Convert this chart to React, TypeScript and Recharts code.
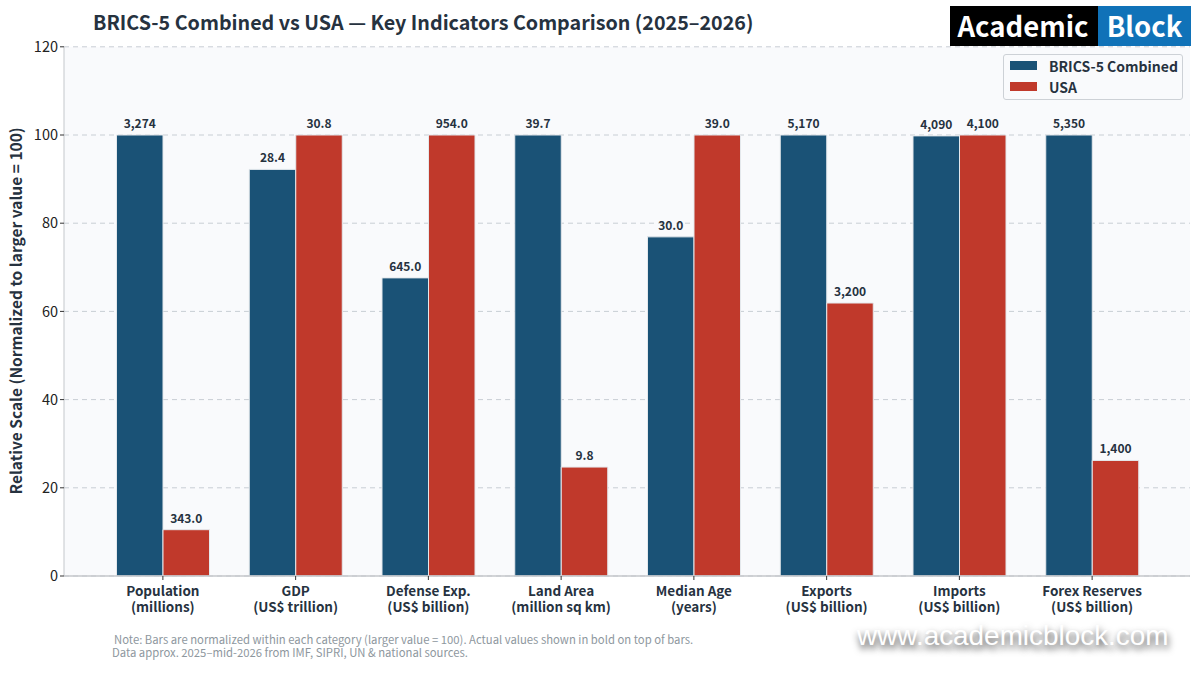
import { BarChart, Bar, XAxis, YAxis, CartesianGrid, Legend, LabelList } from 'recharts'

const FONT = '"Noto Sans CJK SC", "Noto Sans", sans-serif'
const INK = '#26323f'

const categories = ['Population', 'GDP', 'Defense Exp.', 'Land Area', 'Median Age', 'Exports', 'Imports', 'Forex Reserves']
const units = ['(millions)', '(US$ trillion)', '(US$ billion)', '(million sq km)', '(years)', '(US$ billion)', '(US$ billion)', '(US$ billion)']

// bar heights
const bricsScale = [100, 92.2, 67.6, 100, 76.9, 100, 99.8, 100]
const usaScale = [10.5, 100, 100, 24.7, 100, 61.9, 100, 26.2]

// actual values printed on top of the bars
const bricsActual = ['3,274', '28.4', '645.0', '39.7', '30.0', '5,170', '4,090', '5,350']
const usaActual = ['343.0', '30.8', '954.0', '9.8', '39.0', '3,200', '4,100', '1,400']

const yTicks = [0, 20, 40, 60, 80, 100, 120]

const chartData = categories.map((name, i) => ({
  name,
  unit: units[i],
  brics: bricsScale[i],
  usa: usaScale[i],
  bricsActual: bricsActual[i],
  usaActual: usaActual[i],
}))

// two line category label, unit goes under the name
const CategoryTick = (props: any) => {
  const { x, y, payload, index } = props
  return (
    <text x={x} y={y} textAnchor="middle" fontFamily={FONT} fontSize={13.5} fontWeight={700} fill={INK}>
      <tspan x={x} dy={14}>{payload.value}</tspan>
      <tspan x={x} dy={16}>{units[index]}</tspan>
    </text>
  )
}

const LegendBox = (props: any) => (
  <div style={{ boxSizing: 'border-box', width: 180, height: 46, padding: '0 6px', background: '#f9fafc', border: '1px solid #cdd1d6', borderRadius: 3 }}>
    {props.payload.map((item: any) => (
      <div key={item.value} style={{ display: 'flex', alignItems: 'center', height: 21 }}>
        <span style={{ width: 27, height: 9, background: item.color, marginRight: 12, flexShrink: 0 }} />
        <span style={{ fontFamily: FONT, fontSize: 14, fontWeight: 700, color: INK, whiteSpace: 'nowrap' }}>{item.value}</span>
      </div>
    ))}
  </div>
)

export default function App() {
  return (
    <div style={{ position: 'absolute', left: 0, top: 0, width: 1200, height: 675, background: '#fff', overflow: 'hidden' }}>
      <BarChart
        width={1200}
        height={675}
        data={chartData}
        margin={{ top: 46.8, right: 10, bottom: 0, left: 0 }}
        barCategoryGap={20}
        barGap={0}
      >
        <CartesianGrid vertical={false} stroke="#c8ced4" strokeDasharray="5 4" fill="#f9fafc" />
        <XAxis
          dataKey="name"
          height={99}
          padding={{ left: 32.5, right: 31.5 }}
          interval={0}
          tick={<CategoryTick />}
          tickLine={{ stroke: '#333' }}
          tickSize={4}
          axisLine={{ stroke: '#c4c7cb', strokeWidth: 1.5 }}
        />
        <YAxis
          width={64}
          domain={[0, 120]}
          ticks={yTicks}
          tick={{ fontFamily: FONT, fontSize: 14.5, fill: '#222' }}
          tickLine={{ stroke: '#333' }}
          tickSize={4}
          axisLine={{ stroke: '#c4c7cb' }}
          label={{
            value: 'Relative Scale (Normalized to larger value = 100)',
            angle: -90,
            position: 'insideLeft',
            dx: 12,
            dy: 183,
            style: { fontFamily: FONT, fontSize: 15.5, fontWeight: 700, fill: INK },
          }}
        />
        <Legend
          layout="vertical"
          align="center"
          verticalAlign="middle"
          content={<LegendBox />}
          wrapperStyle={{ left: 1003, top: 54, width: 180, height: 46 }}
        />
        <Bar dataKey="brics" name="BRICS-5 Combined" fill="#1a5276" stroke="#e4e8ec" strokeWidth={1} barSize={46.5} isAnimationActive={false}>
          <LabelList dataKey="bricsActual" position="top" offset={7} style={{ fontFamily: FONT, fontSize: 12, fontWeight: 700, fill: INK }} />
        </Bar>
        <Bar dataKey="usa" name="USA" fill="#c0392b" stroke="#e4e8ec" strokeWidth={1} barSize={46.5} isAnimationActive={false}>
          <LabelList dataKey="usaActual" position="top" offset={7} style={{ fontFamily: FONT, fontSize: 12, fontWeight: 700, fill: INK }} />
        </Bar>
      </BarChart>

      <div style={{ position: 'absolute', left: 93, top: 7, fontFamily: FONT, fontSize: 19.7, fontWeight: 700, color: INK, whiteSpace: 'nowrap', lineHeight: '30px' }}>
        BRICS-5 Combined vs USA — Key Indicators Comparison (2025–2026)
      </div>

      {/* logo */}
      <div style={{ position: 'absolute', left: 950, top: 6, width: 146, height: 40, paddingRight: 2, background: '#000', color: '#fff', fontFamily: FONT, fontSize: 27.5, fontWeight: 700, lineHeight: '38px', textAlign: 'center' }}>Academic</div>
      <div style={{ position: 'absolute', left: 1098, top: 6, width: 93, height: 40, background: '#1072b8', color: '#fff', fontFamily: FONT, fontSize: 27.5, fontWeight: 700, lineHeight: '38px', textAlign: 'center' }}>Block</div>

      {/* footnote */}
      <div style={{ position: 'absolute', left: 114, top: 633, fontFamily: FONT, fontSize: 11.3, color: '#8e979e', lineHeight: '12px', whiteSpace: 'nowrap' }}>
        Note: Bars are normalized within each category (larger value = 100). Actual values shown in bold on top of bars.
      </div>
      <div style={{ position: 'absolute', left: 112, top: 646, fontFamily: FONT, fontSize: 11.3, color: '#8e979e', lineHeight: '12px', whiteSpace: 'nowrap' }}>
        Data approx. 2025–mid-2026 from IMF, SIPRI, UN &amp; national sources.
      </div>

      {/* watermark */}
      <div style={{ position: 'absolute', left: 857, top: 618, fontFamily: '"Liberation Sans", Arial, sans-serif', fontSize: 27.9, color: '#fff', lineHeight: '36px', whiteSpace: 'nowrap', textShadow: '1px 4px 7px rgba(0,0,0,0.75)' }}>
        www.academicblock.com
      </div>
    </div>
  )
}
